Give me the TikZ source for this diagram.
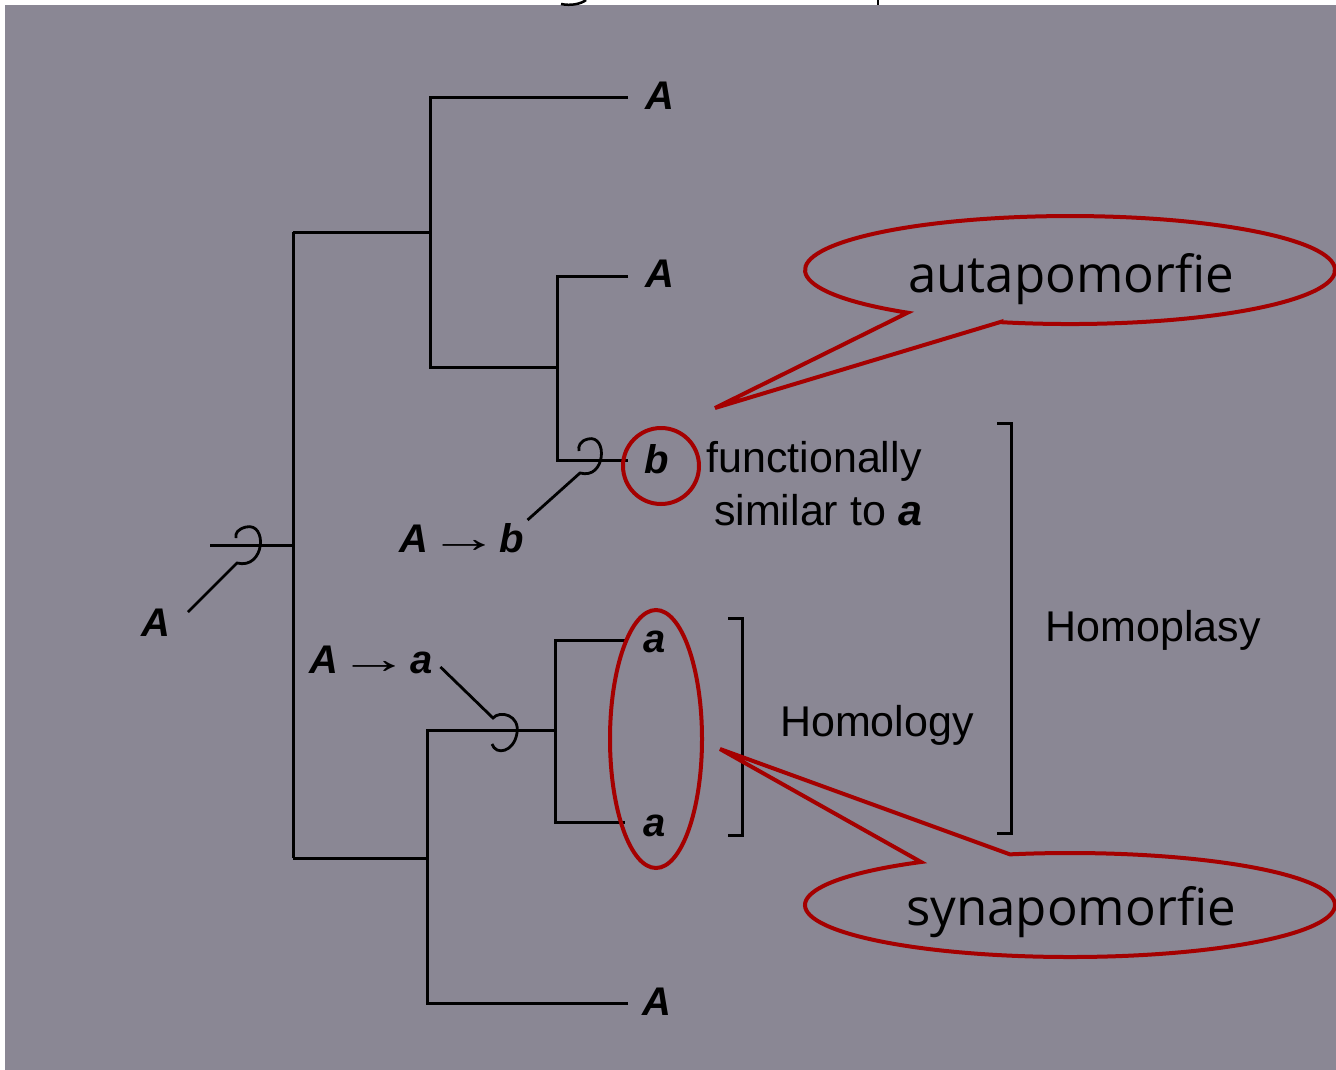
\documentclass[tikz,border=0pt]{standalone}
\usepackage{fontspec}
\setmainfont{Liberation Sans}
\newfontfamily\callfont{Open Sans}
\definecolor{bg}{RGB}{138,135,148}
\definecolor{mark}{RGB}{165,0,0}
\newcommand{\chgarrow}{{\mdseries\upshape\fontsize{34}{40}\selectfont\scalebox{2.1}[1.25]{→}}}
\begin{document}
\begin{tikzpicture}[x=1pt,y=-1pt,
  tree/.style={line width=3pt, line join=miter},
  loopline/.style={line width=2.8pt},
  lab/.style={inner sep=0pt, anchor=base, font=\fontsize{40}{48}\selectfont\bfseries\itshape},
  txt/.style={inner sep=0pt, anchor=base, font=\fontsize{43}{50}\selectfont},
  redline/.style={draw=mark, line width=4pt},
  call/.style={inner sep=0pt, anchor=base, font=\fontsize{51}{60}\selectfont\callfont}]
% page and background
\fill[white] (0,0) rectangle (1336,1070);
\fill[bg] (5,5) rectangle (1336,1070);
\useasboundingbox (0,0) rectangle (1336,1070);
% cut-off title fragments
\draw[line width=2.5pt] (561,4) .. controls (571,6) and (581,4) .. (586,0);
\draw[line width=2.8pt] (878,0) -- (878,5);

% tip labels
\node[lab] (tA1) at (660,110) {A};
\node[lab] (tA2) at (660,287) {A};
\node[lab] (tb)  at (657,473) {b};
\node[lab] (ta1) at (655,652) {a};
\node[lab] (ta2) at (655,836) {a};
\node[lab] (tA3) at (657,1015) {A};
\node[lab] (Aroot) at (156,636) {A};
\node[lab] (Ab) at (462,552) {A\hspace{0pt}\chgarrow\hspace{0pt}b};
\node[lab] (Aa) at (371,673) {A\hspace{0pt}\chgarrow\hspace{0pt}a};

% junctions
\coordinate (rs) at (210,545);
\coordinate (r)  at (293,545);
\coordinate (ut) at (293,232);
\coordinate (ub) at (293,858);
\coordinate (u)  at (430,232);
\coordinate (w)  at (427,858);

% tree
\draw[tree] (rs) -- (r);
\draw[tree] (ut) -- (ub);
\draw[tree] (ut) -- (u);
\draw[tree] (628,98) -- (430,98) -- (430,367) -- (557,367);
\draw[tree] (628,276) -- (557,276) -- (557,460) -- (628,460);
\draw[tree] (ub) -- (w);
\draw[tree] (628,1003) -- (427,1003) -- (427,730) -- (555,730);
\draw[tree] (625,640) -- (555,640) -- (555,822) -- (625,822);

% character-change loops
\draw[loopline] ([shift={(32,-24)}]Aroot.base) -- (237,563)
  .. controls (265,570) and (268,522) .. (246,527)
  .. controls (238,529) and (235,533) .. (236,538);
\draw[loopline] ([shift={(3,-32)}]Ab.base east) -- (580,473)
  .. controls (606,480) and (608,434) .. (588,439)
  .. controls (580,441) and (578,446) .. (579,451);
\draw[loopline] ([shift={(8,-6)}]Aa.base east) -- (493,718)
  .. controls (500,710) and (520,715) .. (517,733)
  .. controls (514,752) and (496,756) .. (492,744);

% side texts
\node[txt] (fs1) at (814,472) {functionally};
\node[txt] (fs2) at (818,525) {similar to \textbf{\textit{a}}};
\node[txt] (hom) at (877,736) {Homology};
\node[txt] (hpl) at (1153,641) {Homoplasy};

% brackets
\draw[tree] (728,618) -- (742,618) -- (742,835) -- (728,835);
\draw[tree] (997,423) -- (1011,423) -- (1011,833) -- (997,833);

% red marks
\draw[redline] (661,466) circle[radius=38];
\draw[redline] (656,739) ellipse[x radius=46, y radius=129];

% callouts
\draw[redline, line join=miter] (1000.1,322.1) -- (715,408) -- (907.6,312.7)
  arc[start angle=127.8, end angle=465.3, x radius=265, y radius=54] -- cycle;
\node[call] (auto) at (1071,292) {autapomorfie};
\draw[redline, line join=miter] (1009.9,854.35) -- (720,749) -- (921.05,862.0)
  arc[start angle=235.8, end angle=-103.1, x radius=265, y radius=52] -- cycle;
\node[call] (syn) at (1071,925) {synapomorfie};
\end{tikzpicture}
\end{document}
